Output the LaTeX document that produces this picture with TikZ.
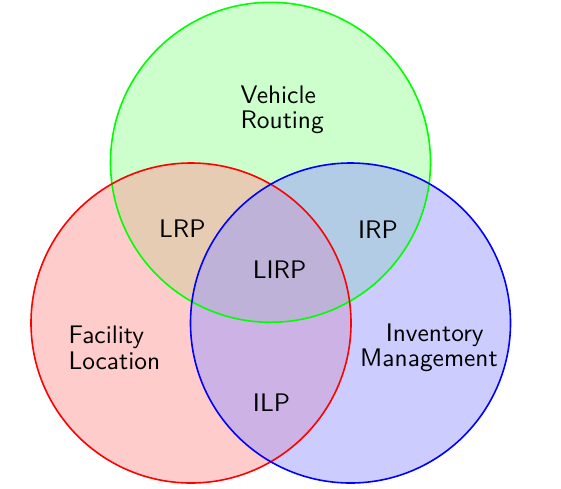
\documentclass[tikz,border=0pt]{standalone}
\begin{document}
\begin{tikzpicture}[x=1pt,y=-1pt,
  setfill/.style={draw=none, fill opacity=0.5},
  setline/.style={line width=1.6pt},
  lab/.style={font=\sffamily\fontsize{10}{10.1}\selectfont, inner sep=0pt, scale=2.54, transform shape}]
\useasboundingbox (0,0) rectangle (561,488);
\fill[setfill, fill=green!40] (270.5,162.3) circle (160);
\fill[setfill, fill=red!40] (191,323) circle (160);
\fill[setfill, fill=blue!40] (350.5,323) circle (160);
\draw[setline, green] (270.5,162.3) circle (160);
\draw[setline, red] (191,323) circle (160);
\draw[setline, blue] (350.5,323) circle (160);
\node[lab, anchor=base west, align=left] (vr) at (240,128.8) {Vehicle\\Routing};
\node[lab, anchor=base west, align=left] (fl) at (68,369.3) {Facility\\Location};
\node[lab, anchor=base, align=center] (im) at (429,366.7) {\hspace*{4.5pt}Inventory\\Management};
\node[lab, anchor=base] (lrp) at (182.4,237.7) {LRP};
\node[lab, anchor=base] (irp) at (378,238.3) {IRP};
\node[lab, anchor=base] (lirp) at (279.5,278.3) {LIRP};
\node[lab, anchor=base] (ilp) at (271.5,411) {ILP};
\end{tikzpicture}
\end{document}
